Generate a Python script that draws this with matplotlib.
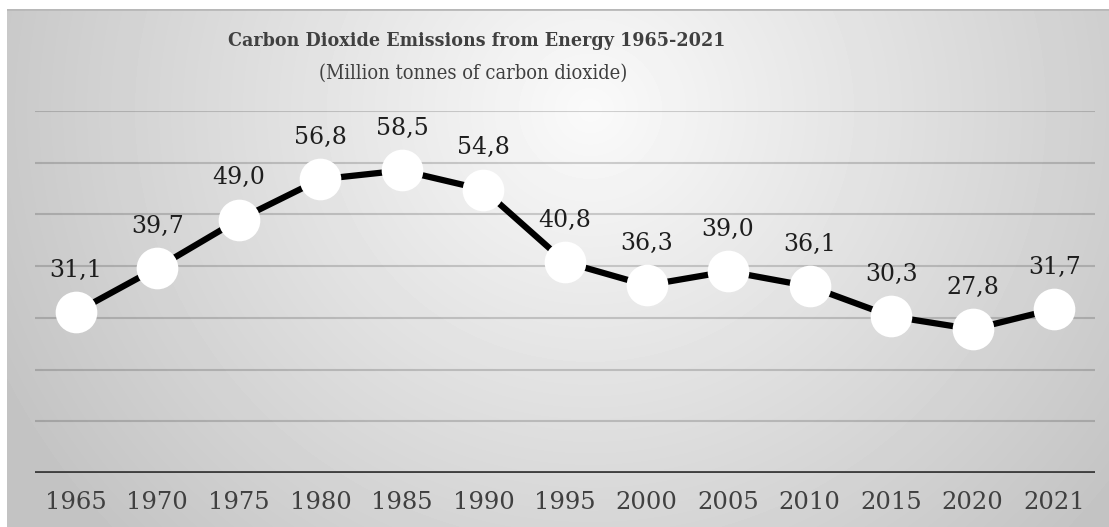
import numpy as np
import matplotlib
matplotlib.use("Agg")
import matplotlib.pyplot as plt

years = ["1965", "1970", "1975", "1980", "1985", "1990", "1995",
         "2000", "2005", "2010", "2015", "2020", "2021"]
emissions = [31.1, 39.7, 49.0, 56.8, 58.5, 54.8, 40.8,
             36.3, 39.0, 36.1, 30.3, 27.8, 31.7]

TITLE = "Carbon Dioxide Emissions from Energy 1965-2021"
SUBTITLE = "(Million tonnes of carbon dioxide)"

W, H = 1109, 527
plt.rcParams["font.family"] = ["DejaVu Serif"]

fig = plt.figure(figsize=(W / 100, H / 100), dpi=100)
fig.patch.set_facecolor("white")

# radial grey gradient behind the chart area
bg = fig.add_axes([7 / W, 0, 1 - 7 / W, 1 - 9 / H])
yy, xx = np.mgrid[9:H, 7:W]
r = np.sqrt(((xx - 590) / 650.0) ** 2 + ((yy - 110) / 620.0) ** 2)
shade = np.clip(250 - 54 * r, 196, 251) / 255.0
bg.imshow(shade, cmap="gray", vmin=0, vmax=1, aspect="auto",
          extent=[0, 1, 0, 1], interpolation="bilinear")
bg.axhline(1, color="#b8b8b8", lw=2)
bg.set_axis_off()

ax = fig.add_axes([35 / W, 1 - 473 / H, 1060 / W, (473 - 111) / H])
ax.patch.set_alpha(0)
x = np.arange(len(years))

for level in range(10, 80, 10):
    ax.axhline(level, color="black", alpha=0.17, lw=1.5, zorder=1)
ax.axhline(0, color="#404040", lw=3.5, zorder=2)

ax.plot(x, emissions, color="black", lw=4.5, zorder=3,
        marker="o", markersize=30, markerfacecolor="white",
        markeredgecolor="white", markeredgewidth=0)

for xi, val in zip(x, emissions):
    ax.annotate(f"{val:.1f}".replace(".", ","), (xi, val),
                xytext=(0, 30), textcoords="offset points",
                ha="center", va="center", fontsize=17, color="#1e1e1e",
                zorder=4)

ax.set_xlim(-0.5, len(years) - 0.5)
ax.set_ylim(0, 70)
ax.set_xticks(x)
ax.set_xticklabels(years, fontsize=17.5, color="#404040")
ax.tick_params(axis="x", length=0, pad=13)
ax.set_yticks([])
for side in ax.spines.values():
    side.set_visible(False)

fig.text(477 / W, 1 - 41 / H, TITLE, ha="center", va="center",
         fontsize=14, fontweight="bold", fontstretch="condensed",
         color="#404040")
fig.text(473 / W, 1 - 73 / H, SUBTITLE, ha="center", va="center",
         fontsize=14.4, fontstretch="condensed", color="#404040")

fig.savefig("out.png", dpi=100)
